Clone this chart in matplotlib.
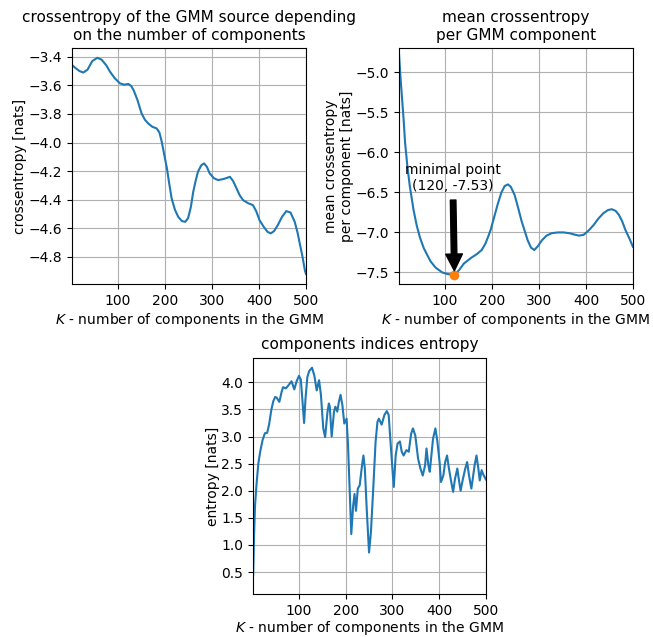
import numpy as np
import matplotlib
matplotlib.use('Agg')
import matplotlib.pyplot as plt
from matplotlib.ticker import MultipleLocator

# crossentropy of the GMM source vs K
k_ce = [2, 10, 18, 26, 35, 45, 56, 65, 75, 83, 93, 104, 113, 122, 128, 133, 141,
        150, 157, 164, 173, 182, 188, 193, 198, 204, 209, 214, 221, 228, 236, 243,
        249, 255, 260, 265, 270, 277, 283, 289, 295, 304, 313, 325, 338, 345, 352,
        359, 366, 377, 387, 394, 401, 410, 418, 425, 432, 440, 449, 458, 467, 476,
        482, 486, 492, 498, 500]
ce = [-3.458, -3.48, -3.50, -3.51, -3.49, -3.43, -3.407, -3.42, -3.46, -3.505,
      -3.55, -3.586, -3.595, -3.59, -3.605, -3.633, -3.70, -3.796, -3.84, -3.866,
      -3.89, -3.901, -3.93, -3.995, -4.08, -4.181, -4.29, -4.391, -4.47, -4.52,
      -4.55, -4.555, -4.53, -4.45, -4.345, -4.27, -4.205, -4.16, -4.146, -4.17,
      -4.216, -4.25, -4.263, -4.255, -4.24, -4.27, -4.32, -4.37, -4.403, -4.425,
      -4.438, -4.48, -4.543, -4.59, -4.625, -4.636, -4.62, -4.578, -4.52, -4.48,
      -4.49, -4.555, -4.63, -4.695, -4.79, -4.90, -4.92]

# mean crossentropy per component
k_mce = [2, 5, 8, 12, 15, 20, 25, 33, 40, 47, 55, 69, 80, 94, 105, 120, 130, 140,
         155, 168, 178, 186, 192, 197, 205, 212, 220, 227, 234, 240, 248, 256, 263,
         269, 276, 283, 290, 298, 306, 316, 327, 340, 352, 365, 374, 385, 395, 405,
         416, 426, 437, 447, 455, 463, 470, 477, 484, 492, 500]
mce = [-4.76, -5.05, -5.28, -5.6, -5.88, -6.18, -6.42, -6.72, -6.92, -7.07, -7.2,
       -7.36, -7.44, -7.50, -7.52, -7.53, -7.47, -7.39, -7.32, -7.27, -7.22, -7.14,
       -7.05, -6.97, -6.80, -6.65, -6.50, -6.42, -6.40, -6.43, -6.53, -6.70, -6.86,
       -6.97, -7.10, -7.19, -7.22, -7.17, -7.10, -7.04, -7.01, -7.00, -7.00, -7.01,
       -7.025, -7.04, -7.03, -6.98, -6.91, -6.83, -6.76, -6.72, -6.71, -6.73, -6.78,
       -6.86, -6.97, -7.07, -7.18]
k_min, mce_min = 120, -7.53

# components indices entropy
k_ent = [2, 4, 6, 9, 13, 17, 22, 27, 32, 36, 41, 45, 49, 52, 58, 63, 66, 72, 77,
         84, 90, 95, 100, 104, 108, 111, 114, 118, 122, 128, 133, 138, 143, 147,
         152, 156, 161, 164, 166, 170, 175, 178, 182, 185, 189, 193, 197, 202, 205,
         209, 212, 216, 219, 222, 226, 230, 235, 238, 241, 245, 250, 254, 259, 264,
         268, 271, 277, 283, 288, 292, 296, 300, 303, 307, 311, 316, 320, 324, 330,
         335, 340, 344, 349, 355, 360, 365, 370, 373, 377, 380, 387, 392, 396, 401,
         404, 409, 413, 417, 421, 426, 430, 434, 439, 442, 446, 451, 456, 460, 464,
         469, 472, 476, 480, 484, 487, 491, 494, 500]
ent = [0.45, 1.2, 1.73, 2.1, 2.5, 2.72, 2.93, 3.06, 3.07, 3.22, 3.5, 3.65, 3.73,
       3.72, 3.64, 3.83, 3.91, 3.89, 3.94, 4.02, 3.87, 4.02, 4.12, 4.05, 3.6, 3.25,
       3.7, 4.1, 4.21, 4.27, 4.12, 3.85, 4.04, 3.77, 3.15, 2.99, 3.45, 3.61, 3.55,
       3.0, 3.46, 3.55, 3.46, 3.62, 3.77, 3.58, 3.24, 3.33, 2.84, 1.91, 1.20, 1.73,
       1.94, 1.63, 2.04, 2.10, 2.47, 2.65, 2.41, 1.67, 0.86, 1.23, 2.04, 2.90, 3.27,
       3.33, 3.22, 3.40, 3.47, 3.40, 2.90, 2.41, 2.07, 2.65, 2.87, 2.91, 2.72, 2.65,
       2.75, 2.72, 3.05, 3.15, 3.02, 2.59, 2.41, 2.28, 2.47, 2.78, 2.47, 2.35, 2.96,
       3.15, 2.93, 2.53, 2.16, 2.28, 2.53, 2.65, 2.41, 2.16, 1.98, 2.22, 2.41, 2.22,
       2.0, 2.22, 2.41, 2.53, 2.28, 2.04, 2.22, 2.47, 2.65, 2.41, 2.19, 2.38, 2.31,
       2.21]

xlab = '$K$ - number of components in the GMM'

fig = plt.figure(figsize=(6.53, 6.37), dpi=100)

# ===== top left =====
ax1 = fig.add_axes([0.1103, 0.554, 0.3583, 0.3705])
ax1.plot(k_ce, ce)
ax1.set_title('crossentropy of the GMM source depending\non the number of components',
              fontsize=11)
ax1.set_xlabel(xlab, labelpad=2)
ax1.set_ylabel('crossentropy [nats]', labelpad=1)
ax1.set_xlim(2, 500)
ax1.set_ylim(-4.991, -3.339)
ax1.yaxis.set_major_locator(MultipleLocator(0.2))
ax1.grid(True)

# ===== top right =====
ax2 = fig.add_axes([0.611, 0.554, 0.3583, 0.3705])
ax2.plot(k_mce, mce)
ax2.plot(k_min, mce_min, 'o', color='C1')
ax2.annotate('minimal point\n({}, {})'.format(k_min, mce_min), xy=(k_min, mce_min),
             xytext=(k_min - 3, -6.51), ha='center', va='bottom',
             arrowprops=dict(facecolor='black', shrink=0.05))
ax2.set_title('mean crossentropy\nper GMM component', fontsize=11)
ax2.set_xlabel(xlab, labelpad=2)
ax2.set_ylabel('mean crossentropy\nper component [nats]', labelpad=1)
ax2.set_xlim(2, 500)
ax2.set_ylim(-7.646, -4.696)
ax2.yaxis.set_major_locator(MultipleLocator(0.5))
ax2.grid(True)

# ===== bottom =====
ax3 = fig.add_axes([0.387, 0.067, 0.357, 0.3714])
ax3.plot(k_ent, ent)
ax3.set_title('components indices entropy', fontsize=11)
ax3.set_xlabel(xlab, labelpad=1)
ax3.set_ylabel('entropy [nats]', labelpad=1)
ax3.set_xlim(1, 500)
ax3.set_ylim(0.089, 4.454)
ax3.yaxis.set_major_locator(MultipleLocator(0.5))
ax3.grid(True)

plt.savefig('out.png', dpi=100)
